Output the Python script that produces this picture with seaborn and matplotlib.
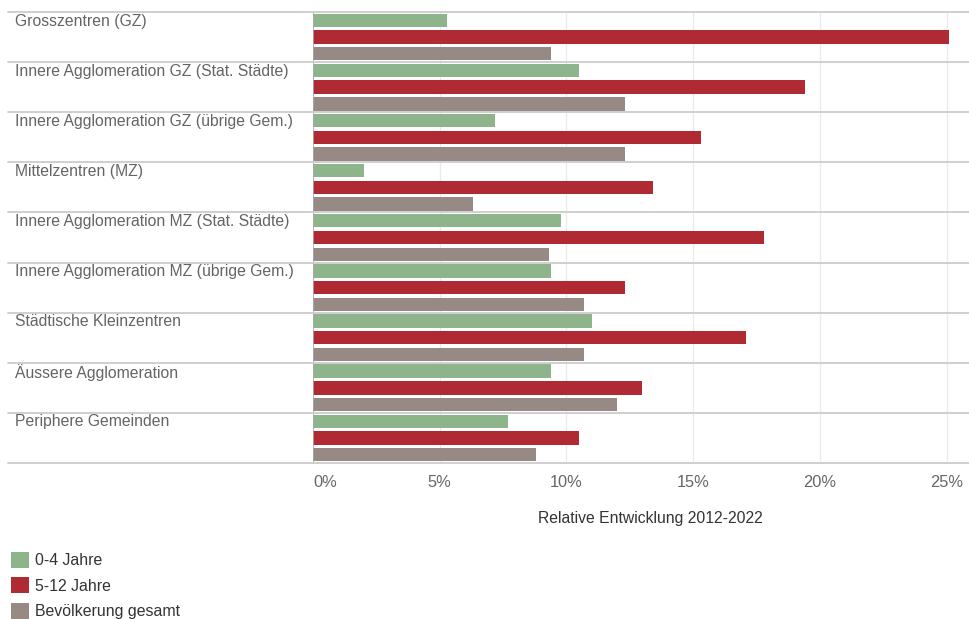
import numpy as np
import pandas as pd
import seaborn as sns
import matplotlib.pyplot as plt
from matplotlib.patches import Patch
from matplotlib.transforms import blended_transform_factory

# values (relative change 2012-2022 in %)
categories = [
    "Grosszentren (GZ)",
    "Innere Agglomeration GZ (Stat. Städte)",
    "Innere Agglomeration GZ (übrige Gem.)",
    "Mittelzentren (MZ)",
    "Innere Agglomeration MZ (Stat. Städte)",
    "Innere Agglomeration MZ (übrige Gem.)",
    "Städtische Kleinzentren",
    "Äussere Agglomeration",
    "Periphere Gemeinden",
]
kids_0_4 = [5.3, 10.5, 7.2, 2.0, 9.8, 9.4, 11.0, 9.4, 7.7]
kids_5_12 = [25.1, 19.4, 15.3, 13.4, 17.8, 12.3, 17.1, 13.0, 10.5]
pop_total = [9.4, 12.3, 12.3, 6.3, 9.3, 10.7, 10.7, 12.0, 8.8]

series = ["0-4 Jahre", "5-12 Jahre", "Bevölkerung gesamt"]
colors = ["#8db48a", "#b02a34", "#978983"]
x_ticks = [0, 5, 10, 15, 20, 25]

df = pd.DataFrame({
    "kategorie": categories,
    series[0]: kids_0_4,
    series[1]: kids_5_12,
    series[2]: pop_total,
}).melt(id_vars="kategorie", var_name="serie", value_name="wert")

sns.set_theme(style="white")
plt.rcParams["font.family"] = ["Liberation Sans", "DejaVu Sans"]

W, H = 969, 619
fig = plt.figure(figsize=(W / 100, H / 100), dpi=100)
# plot area: x 313..969, y 12..463 (pixels)
ax = fig.add_axes([313 / W, (H - 463) / H, (W - 313) / W, (463 - 12) / H])

sns.barplot(
    data=df, x="wert", y="kategorie", hue="serie",
    order=categories, hue_order=series, palette=colors,
    orient="h", width=1.0, gap=0.2, saturation=1, linewidth=0,
    legend=False, ax=ax,
)

ax.set_xlim(0, (W - 313) / 25.34)
ax.set_ylim(len(categories) - 0.5, -0.5)
for s in ax.spines.values():
    s.set_visible(False)

# grid + zero line
ax.set_xticks(x_ticks)
ax.set_xticklabels([f"{t}%" for t in x_ticks])
ax.xaxis.grid(True, color="#ebebeb", lw=1)
ax.set_axisbelow(True)
ax.axvline(0, color="#aaaaaa", lw=1.2, zorder=3)
ax.tick_params(axis="x", length=0, pad=8.5, labelsize=11.8, labelcolor="#666666")
ax.get_xticklabels()[0].set_horizontalalignment("left")

# separators between groups, running into the label area
xmin = (8 - 313) / (W - 313)
for b in np.arange(-0.5, len(categories)):
    ax.axhline(b, xmin=xmin, xmax=1, color="#cccccc", lw=1.3, clip_on=False, zorder=4)

# category labels above each group, on the left
ax.set_yticks([])
ax.set_ylabel("")
trans = blended_transform_factory(fig.transFigure, ax.transData)
for i, cat in enumerate(categories):
    ax.text(15 / W, i - 0.47, cat, transform=trans, ha="left", va="top",
            fontsize=11.3, color="#646464")

ax.set_xlabel("Relative Entwicklung 2012-2022", fontsize=11.3, color="#333333", labelpad=15)
ax.xaxis.label.set_x((650 - 313) / (W - 313))

handles = [Patch(facecolor=c, edgecolor="none", label=s) for s, c in zip(series, colors)]
fig.legend(handles=handles, loc="upper left", bbox_to_anchor=(11 / W, 1 - 552 / H),
           frameon=False, fontsize=11.4, handlelength=1.15, handleheight=1.15,
           labelspacing=0.58, handletextpad=0.35, borderaxespad=0, borderpad=0,
           labelcolor="#333333")

fig.savefig("out.png", dpi=100)
